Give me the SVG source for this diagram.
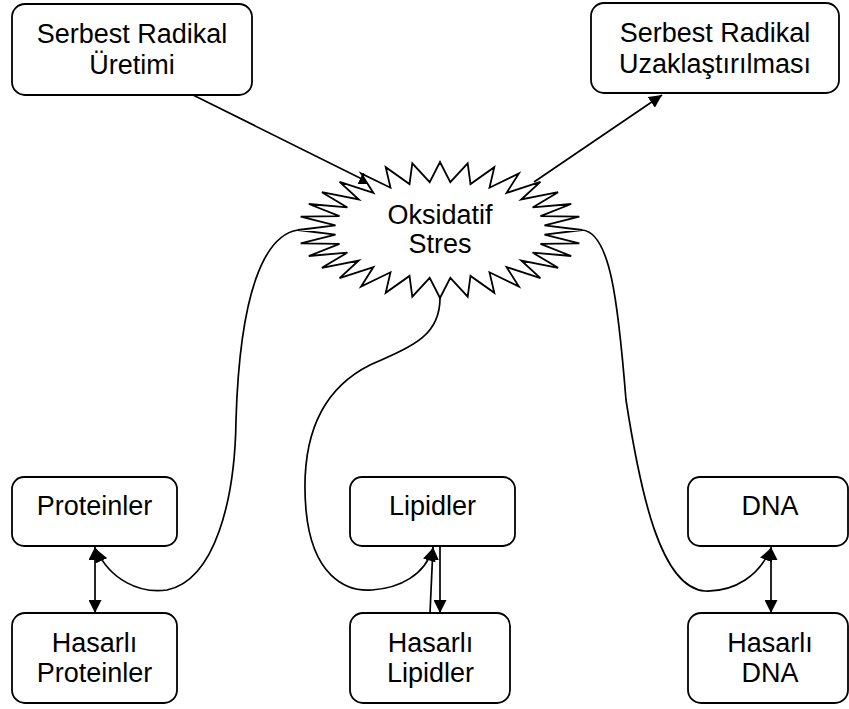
<svg xmlns="http://www.w3.org/2000/svg" width="849" height="709" viewBox="0 0 849 709">
<style>
.box{fill:#fff;stroke:#000;stroke-width:1.8}
.t{font-family:"Liberation Sans",Arial,sans-serif;font-size:27px;fill:#000;text-anchor:middle}
.c{fill:none;stroke:#000;stroke-width:1.7}
</style>
<defs>
<marker id="ah" viewBox="0 0 13 13" refX="13" refY="6.5" markerWidth="13" markerHeight="13" markerUnits="userSpaceOnUse" orient="auto-start-reverse">
<path d="M0,0 L13,6.5 L0,13 z" fill="#000"/>
</marker>
</defs>
<rect width="849" height="709" fill="#fff"/>
<g id="connectors">
<line class="c" x1="193" y1="95" x2="372" y2="184" marker-end="url(#ah)"/>
<line class="c" x1="534" y1="182" x2="662" y2="95" marker-end="url(#ah)"/>
<path class="c" d="M298,230 C265,235 240,290 236,420 C235,500 215,580 167,590 C140,594 110,580 96,549" marker-end="url(#ah)"/>
<path class="c" d="M440,298 C440,335 415,345 370,365 C320,390 300,440 306,510 C312,575 345,592 372,590 C400,588 425,575 433,548" marker-end="url(#ah)"/>
<path class="c" d="M582,230 C610,232 618,300 626,400 C640,490 660,588 705,591 C735,592 760,575 771,548" marker-end="url(#ah)"/>
<line class="c" x1="95" y1="547" x2="95" y2="613" marker-start="url(#ah)" marker-end="url(#ah)"/>
<line class="c" x1="430" y1="613" x2="433" y2="547" marker-end="url(#ah)"/>
<line class="c" x1="440" y1="547" x2="440" y2="613" marker-end="url(#ah)"/>
<line class="c" x1="771" y1="547" x2="771" y2="613" marker-start="url(#ah)" marker-end="url(#ah)"/>
</g>
<g id="uretim">
<rect class="box" x="12" y="4" width="240" height="91" rx="13"/>
<text class="t" x="132" y="43">Serbest Radikal</text>
<text class="t" x="132" y="74">Üretimi</text>
</g>
<g id="uzaklastirma">
<rect class="box" x="591" y="3" width="248" height="90" rx="13"/>
<text class="t" x="715" y="42">Serbest Radikal</text>
<text class="t" x="715" y="73">Uzaklaştırılması</text>
</g>
<g id="oksidatif">
<polygon class="box" points="582,230 544.5,234.7 579.3,243.3 540.5,243.9 571.2,256 532.6,252.6 558.1,267.8 521.2,260.5 540.4,278.1 506.6,267.1 518.9,286.5 489.5,272.3 494.3,292.8 470.5,275.9 467.7,296.7 450.3,277.8 440,298 429.7,277.8 412.3,296.7 409.5,275.9 385.7,292.8 390.5,272.3 361.1,286.5 373.4,267.1 339.6,278.1 358.8,260.5 321.9,267.8 347.4,252.6 308.8,256 339.5,243.9 300.7,243.3 335.5,234.7 298,230 335.5,225.3 300.7,216.7 339.5,216.1 308.8,204 347.4,207.4 321.9,192.2 358.8,199.5 339.6,181.9 373.4,192.9 361.1,173.5 390.5,187.7 385.7,167.2 409.5,184.1 412.3,163.3 429.7,182.2 440,162 450.3,182.2 467.7,163.3 470.5,184.1 494.3,167.2 489.5,187.7 518.9,173.5 506.6,192.9 540.4,181.9 521.2,199.5 558.1,192.2 532.6,207.4 571.2,204 540.5,216.1 579.3,216.7 544.5,225.3"/>
<text class="t" x="440" y="224">Oksidatif</text>
<text class="t" x="440" y="253">Stres</text>
</g>
<g id="proteinler">
<rect class="box" x="12" y="477" width="165" height="69" rx="12"/>
<text class="t" x="94.5" y="515">Proteinler</text>
</g>
<g id="hasarli-proteinler">
<rect class="box" x="12" y="613" width="165" height="90" rx="13"/>
<text class="t" x="94.5" y="652">Hasarlı</text>
<text class="t" x="94.5" y="682">Proteinler</text>
</g>
<g id="lipidler">
<rect class="box" x="350" y="477" width="165" height="69" rx="12"/>
<text class="t" x="432.5" y="515">Lipidler</text>
</g>
<g id="hasarli-lipidler">
<rect class="box" x="350" y="613" width="160" height="90" rx="13"/>
<text class="t" x="430.5" y="652">Hasarlı</text>
<text class="t" x="430.5" y="682">Lipidler</text>
</g>
<g id="dna">
<rect class="box" x="688" y="477" width="160" height="69" rx="12"/>
<text class="t" x="770" y="515">DNA</text>
</g>
<g id="hasarli-dna">
<rect class="box" x="688" y="613" width="160" height="90" rx="13"/>
<text class="t" x="770" y="652">Hasarlı</text>
<text class="t" x="770" y="682">DNA</text>
</g>
</svg>
